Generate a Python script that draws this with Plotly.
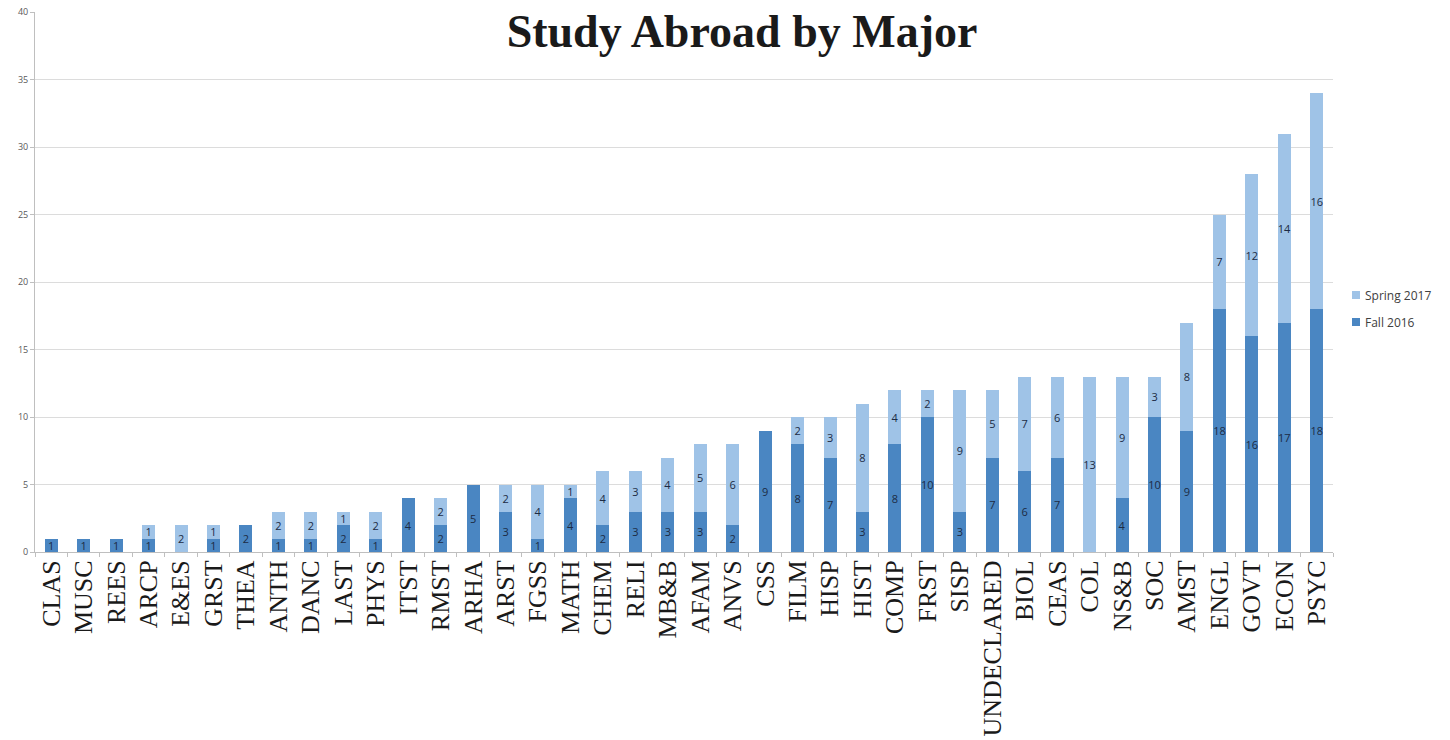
import plotly.graph_objects as go

majors = ["CLAS", "MUSC", "REES", "ARCP", "E&ES", "GRST", "THEA", "ANTH", "DANC", "LAST",
          "PHYS", "ITST", "RMST", "ARHA", "ARST", "FGSS", "MATH", "CHEM", "RELI", "MB&B",
          "AFAM", "ANVS", "CSS", "FILM", "HISP", "HIST", "COMP", "FRST", "SISP", "UNDECLARED",
          "BIOL", "CEAS", "COL", "NS&B", "SOC", "AMST", "ENGL", "GOVT", "ECON", "PSYC"]
fall_2016 = [1, 1, 1, 1, 0, 1, 2, 1, 1, 2,
             1, 4, 2, 5, 3, 1, 4, 2, 3, 3,
             3, 2, 9, 8, 7, 3, 8, 10, 3, 7,
             6, 7, 0, 4, 10, 9, 18, 16, 17, 18]
spring_2017 = [0, 0, 0, 1, 2, 1, 0, 2, 2, 1,
               2, 0, 2, 0, 2, 4, 1, 4, 3, 4,
               5, 6, 0, 2, 3, 8, 4, 2, 9, 5,
               7, 6, 13, 9, 3, 8, 7, 12, 14, 16]
y_ticks = [0, 5, 10, 15, 20, 25, 30, 35, 40]

FALL_COLOR = "#4a86c2"
SPRING_COLOR = "#9fc3e7"

def labels(vals):
    return [str(v) if v else "" for v in vals]

label_font = dict(family="Open Sans, Liberation Sans, sans-serif", size=11, color="#1c2b44")

fig = go.Figure()
fig.add_trace(go.Bar(
    x=majors, y=fall_2016, name="Fall 2016",
    marker=dict(color=FALL_COLOR, line=dict(width=0)),
    text=labels(fall_2016), textposition="inside", insidetextanchor="middle",
    textfont=label_font, constraintext="none", hoverinfo="x+y+name",
))
fig.add_trace(go.Bar(
    x=majors, y=spring_2017, name="Spring 2017",
    marker=dict(color=SPRING_COLOR, line=dict(width=0)),
    text=labels(spring_2017), textposition="inside", insidetextanchor="middle",
    textfont=label_font, constraintext="none", hoverinfo="x+y+name",
))

# Legend drawn at the reference position (Spring on top, Fall below)
W, H = 1450, 740
L, R, T, B = 35, 117, 12, 188
pw, ph = W - L - R, H - T - B
def px_x(x):
    return (x - L) / pw
def px_y(y):
    return (H - B - y) / ph

legend_items = [("Spring 2017", SPRING_COLOR, 295), ("Fall 2016", FALL_COLOR, 322)]
for name, color, cy in legend_items:
    fig.add_shape(type="rect", xref="paper", yref="paper",
                  x0=px_x(1352), x1=px_x(1360), y0=px_y(cy + 4), y1=px_y(cy - 4),
                  fillcolor=color, line=dict(width=0))
    fig.add_annotation(xref="paper", yref="paper", x=px_x(1363), y=px_y(cy),
                       xanchor="left", yanchor="middle", text=name, showarrow=False,
                       font=dict(family="Open Sans, Liberation Sans, sans-serif", size=12, color="#404040"))

fig.update_layout(
    width=W, height=H,
    barmode="stack", bargap=0.6,
    plot_bgcolor="white", paper_bgcolor="white",
    margin=dict(l=L, r=R, t=T, b=B, autoexpand=False),
    uniformtext=dict(minsize=11, mode="show"),
    title=dict(text="<b>Study Abroad by Major</b>", x=742/1450, xanchor="center",
               y=1 - 31/740, yanchor="middle",
               font=dict(family="Liberation Serif, Times New Roman, serif", size=46, color="#1a1a1a")),
    showlegend=False,
)
fig.update_xaxes(
    type="category", tickangle=-90, automargin=False,
    tickfont=dict(family="Liberation Serif, Times New Roman, serif", size=26, color="#1a1a1a"),
    ticklabelstandoff=-3,
    showline=True, linecolor="#bfbfbf", linewidth=1,
    ticks="outside", tickson="boundaries", ticklen=4, tickcolor="#bfbfbf",
    showgrid=False,
)
fig.update_yaxes(
    range=[0, 40], tickvals=y_ticks, automargin=False,
    tickfont=dict(family="Open Sans, Liberation Sans, sans-serif", size=9, color="#595959"),
    showgrid=True, gridcolor="#dcdcdc", gridwidth=1,
    showline=True, linecolor="#bfbfbf", linewidth=1,
    ticks="outside", ticklen=4, tickcolor="#bfbfbf",
    zeroline=False,
)

fig.write_html("out.html", config={"displayModeBar": False},
               post_script="document.body.style.margin='0';")
